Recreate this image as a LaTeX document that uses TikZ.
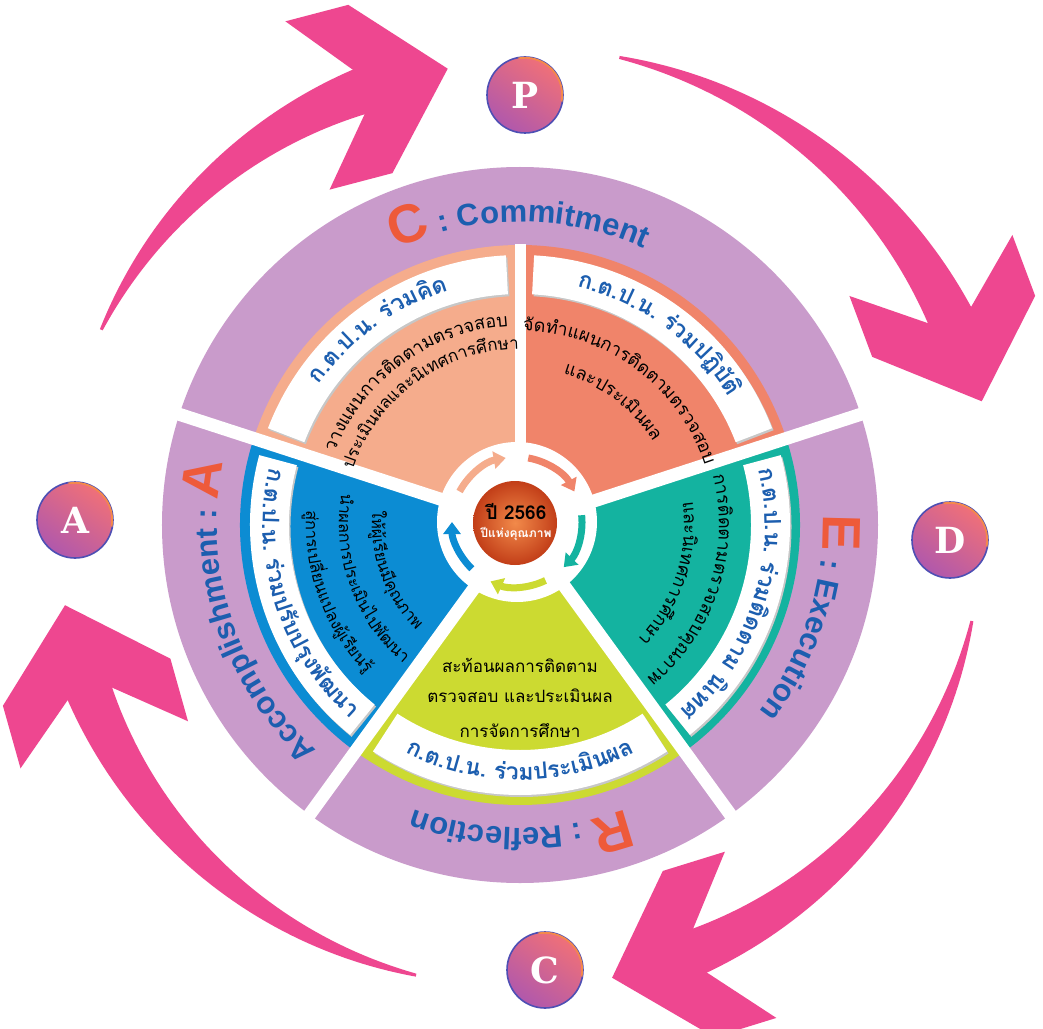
\documentclass[tikz,border=0pt]{standalone}
\usepackage{fontspec}
\usetikzlibrary{decorations.text,arrows.meta}
\newfontfamily\thaifont[Script=Thai]{Loma}
\newfontfamily\labfont{Liberation Sans}
\newfontfamily\pdcafont{DejaVu Serif}
\definecolor{purp}{HTML}{C99BCB}
\definecolor{lsal}{HTML}{F5AC8C}
\definecolor{sal}{HTML}{F0846A}
\definecolor{tealc}{HTML}{14B3A0}
\definecolor{grn}{HTML}{CCDA31}
\definecolor{blu}{HTML}{0C8CD3}
\definecolor{pinkc}{HTML}{EE4790}
\definecolor{tblue}{HTML}{1C5EAF}
\definecolor{bigred}{HTML}{EE5A3A}
\definecolor{ballA}{HTML}{F28A4A}
\definecolor{ballB}{HTML}{C23E18}
\definecolor{pdTop}{HTML}{F07078}
\definecolor{pdBot}{HTML}{B058AC}
\definecolor{pdEdge}{HTML}{4E4FB4}
\definecolor{pdOr}{HTML}{F4894A}
\newcommand\arctext[5]{\path[decorate,decoration={text along path,text align=center,text={|#4|#5}}] (#2:#1) arc[start angle=#2,end angle=#3,radius=#1];}
\newcommand\bannerband[4]{%
  \fill[black!22,shift={(1.5,-2)}] (#1:#3) arc[start angle=#1,end angle=#2,radius=#3] -- (#2:#4) arc[start angle=#2,end angle=#1,radius=#4] -- cycle;
  \fill[white] (#1:#3) arc[start angle=#1,end angle=#2,radius=#3] -- (#2:#4) arc[start angle=#2,end angle=#1,radius=#4] -- cycle;}
\newcommand\pinkarrow[4]{%
  \pgfmathsetmacro\dj{92/#1*57.29578}%
  \pgfmathsetmacro\jj{#3+\dj}%
  \pgfmathsetmacro\je{\jj-1}%
  \pgfmathsetmacro\ph{#3+\dj/2-90}%
  \fill[pinkc] plot[domain=#2:\je,samples=50,variable=\ang] ({(#1+(3+43*((#2)-(\ang))/((#2)-(\jj)))/2)*cos(\ang)},{(#1+(3+43*((#2)-(\ang))/((#2)-(\jj)))/2)*sin(\ang)}) -- plot[domain=\je:#2,samples=50,variable=\ang] ({(#1-(3+43*((#2)-(\ang))/((#2)-(\jj)))/2)*cos(\ang)},{(#1-(3+43*((#2)-(\ang))/((#2)-(\jj)))/2)*sin(\ang)}) -- cycle;
  \coordinate (#4) at (#3:#1);
  \fill[pinkc,shift={(#4)},rotate=\ph] (0,0) -- (-80,87) -- (-145,87) -- (-92,23) -- (-92,-23) -- (-145,-87) -- (-80,-87) -- cycle;}
\def\bannerfmt{\thaifont\bfseries\fontsize{23}{23}\selectfont\color{tblue}}
\def\bodyfmt{\thaifont\fontsize{18}{18}\selectfont\color{black}}
\def\bodyfmtS{\thaifont\fontsize{17}{17}\selectfont\color{black}}
\def\bodyfmtB{\thaifont\fontsize{16.5}{16.5}\selectfont\color{black}}
\def\bigfmt{\labfont\bfseries\fontsize{54}{54}\selectfont\color{bigred}}
\def\smallfmt{\labfont\bfseries\fontsize{31}{31}\selectfont\color{tblue}}
\begin{document}
\begin{tikzpicture}[x=1pt,y=1pt,
  gapline/.style={white,line width=13pt},
  pdca/.style={circle,minimum size=76pt,inner sep=0pt,top color=pdTop,bottom color=pdBot,shading angle=-35,draw=pdEdge,line width=1.6pt,text=white,font=\pdcafont\bfseries\fontsize{36}{36}\selectfont},
  hubarrow/.style={line width=7pt,-{Triangle[length=12pt,width=17pt]}},
  greentext/.style={font=\thaifont\fontsize{17}{20}\selectfont,text=black}]
\useasboundingbox (-520,-503) rectangle (523,525);
\fill[white] (-520,-503) rectangle (523,525);
% outer pink cycle arrows
\pinkarrow{462}{155}{99}{tipP}
\pinkarrow{478}{78}{15}{tipD}
\pinkarrow{462}{-12}{-78.5}{tipC}
\pinkarrow{462}{-103}{-170}{tipA}
% PDCA circles
\node[pdca] (P) at (5,430) {P};
\node[pdca] (D) at (430,-15) {D};
\node[pdca] (C) at (25,-445) {C};
\node[pdca] (A) at (-445,5) {A};
\foreach \n in {P,D,C,A} \draw[pdOr,line width=1.8pt] (\n.center) ++(-10:37.2) arc[start angle=-10,end angle=100,radius=37.2];
% ring and panels
\fill[purp] (0,0) circle[radius=358];
\fill[lsal] (0,0) -- (90:280) arc[start angle=90,end angle=162,radius=280] -- cycle;
\fill[sal] (0,0) -- (18:280) arc[start angle=18,end angle=90,radius=280] -- cycle;
\fill[tealc] (0,0) -- (-54:280) arc[start angle=-54,end angle=18,radius=280] -- cycle;
\fill[grn] (0,0) -- (-126:280) arc[start angle=-126,end angle=-54,radius=280] -- cycle;
\fill[blu] (0,0) -- (162:280) arc[start angle=162,end angle=234,radius=280] -- cycle;
\foreach \g in {18,-54,-126,162} \draw[gapline] (0,0) -- (\g:360);
\draw[gapline,line width=11pt] (0,0) -- (90:281);
% banners
\bannerband{93}{159}{231}{270}
\bannerband{21}{87}{231}{270}
\bannerband{-51}{15}{231}{270}
\bannerband{-123}{-57}{225}{270}
\bannerband{165}{231}{231}{270}
% banner texts
\arctext{245}{170}{82}{\bannerfmt}{ก.ต.ป.น. {ร่}วม{คิ}ด}
\arctext{245}{98}{10}{\bannerfmt}{ก.ต.ป.น. {ร่}วมป{ฏิ}{บั}{ติ}}
\arctext{245}{26}{-62}{\bannerfmt}{ก.ต.ป.น. {ร่}วม{ติ}ดตาม {นิ}เทศ}
\arctext{255}{-135}{-45}{\bannerfmt}{ก.ต.ป.น. {ร่}วมประเ{มิ}นผล}
\arctext{257}{154}{242}{\bannerfmt}{ก.ต.ป.น. {ร่}วมป{รั}บป{รุ}ง{พั}ฒนา}
% body texts
\arctext{199}{168}{84}{\bodyfmt}{วางแผนการ{ติ}ดตามตรวจสอบ}
\arctext{176}{168}{84}{\bodyfmtS}{ประเ{มิ}นผลและ{นิ}เทศการ{ศึ}กษา}
\arctext{194}{96}{11}{\bodyfmt}{{จั}ด{ทำ}แผนการ{ติ}ดตามตรวจสอบ}
\arctext{157}{96}{10}{\bodyfmt}{และประเ{มิ}นผล}
\arctext{199}{26}{-62}{\bodyfmt}{การ{ติ}ดตามตรวจสอบ{คุ}ณภาพ}
\arctext{164}{26}{-62}{\bodyfmt}{และ{นิ}เทศการ{ศึ}กษา}
\arctext{148}{158}{242}{\bodyfmtB}{{ให้}{ผู้}เ{รี}ยน{มี}{คุ}ณภาพ}
\arctext{181}{158}{242}{\bodyfmtB}{{นำ}ผลการประเ{มิ}นไป{พั}ฒนา}
\arctext{214}{158}{242}{\bodyfmtB}{{สู่}การเป{ลี่}ยนแปลง{ผู้}เ{รี}ยน{รู้}}
\node[greentext] (g1) at (0,-140) {สะท้อนผลการติดตาม};
\node[greentext] (g2) at (0,-171) {ตรวจสอบ และประเมินผล};
\node[greentext] (g3) at (0,-206) {การจัดการศึกษา};
% outer labels
\arctext{303}{170}{10}{\bigfmt}{C|\smallfmt| : Commitment}
\arctext{303}{26}{-62}{\bigfmt}{E|\smallfmt| : Execution}
\arctext{303}{-45}{-135}{\bigfmt}{R|\smallfmt| : Reflection}
\arctext{303}{244}{152}{\smallfmt}{Accomplishment : |\bigfmt|A}
% hub
\fill[white] (-3,3) circle[radius=80];
\begin{scope}[shift={(-3,3)}]
\draw[hubarrow,lsal] (152:65) arc[start angle=152,end angle=100,radius=65];
\draw[hubarrow,sal] (80:65) arc[start angle=80,end angle=28,radius=65];
\draw[hubarrow,tealc] (6:65) arc[start angle=6,end angle=-44,radius=65];
\draw[hubarrow,grn] (-64:65) arc[start angle=-64,end angle=-114,radius=65];
\draw[hubarrow,blu] (226:65) arc[start angle=226,end angle=180,radius=65];
\end{scope}
\node[circle,minimum size=84pt,inner sep=0pt,inner color=ballA,outer color=ballB] (ball) at (-5,2) {};
\node[font=\thaifont\bfseries\fontsize{19}{19}\selectfont,text=black] (yr) at (-4,13) {ปี 2566};
\node[font=\thaifont\bfseries\fontsize{12}{12}\selectfont,text=white] (yrq) at (-4,-9) {ปีแห่งคุณภาพ};
\end{tikzpicture}
\end{document}
